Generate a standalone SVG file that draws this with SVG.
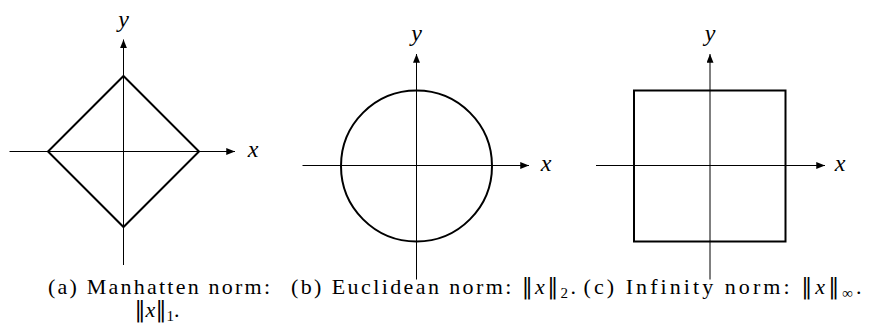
<svg xmlns="http://www.w3.org/2000/svg" width="874" height="334" viewBox="0 0 874 334">
<style>
.axis{stroke:#000;stroke-width:1;fill:none}
.shape{stroke:#000;stroke-width:2;fill:none}
text{fill:#000}
.bar{font-family:'DejaVu Serif','Liberation Serif',serif}
</style>
<defs>
<marker id="arr" viewBox="0 0 10 8" refX="10" refY="4" markerWidth="9" markerHeight="7" markerUnits="userSpaceOnUse" orient="auto">
<path d="M0,0 L10,4 L0,8 z" fill="#000"/>
</marker>
</defs>
<g id="axes">
<line class="axis" x1="9.5" y1="151.5" x2="235" y2="151.5" marker-end="url(#arr)"/>
<line class="axis" x1="123.5" y1="265" x2="123.5" y2="39.5" marker-end="url(#arr)"/>
<line class="axis" x1="302.5" y1="165.5" x2="529" y2="165.5" marker-end="url(#arr)"/>
<line class="axis" x1="416.5" y1="279.5" x2="416.5" y2="54" marker-end="url(#arr)"/>
<line class="axis" x1="596" y1="165.5" x2="825" y2="165.5" marker-end="url(#arr)"/>
<line class="axis" x1="710" y1="279.5" x2="710" y2="54" marker-end="url(#arr)"/>
</g>
<g font-family="Liberation Serif, DejaVu Serif, serif" font-size="22">
<g id="panel-a">
<polygon class="shape" points="123.5,76 199,151.5 123.5,227 48,151.5"/>
<text x="253" y="157" text-anchor="middle" font-style="italic" font-size="24">x</text>
<text x="123.5" y="27" text-anchor="middle" font-style="italic" font-size="24">y</text>
<text x="159" y="294" text-anchor="middle" textLength="222" lengthAdjust="spacing">(a) Manhatten norm:</text>
<text x="157" y="317" text-anchor="middle"><tspan class="bar">‖</tspan><tspan font-style="italic">x</tspan><tspan class="bar">‖</tspan><tspan font-size="15" dy="4">1</tspan><tspan dy="-4">.</tspan></text>
</g>
<g id="panel-b">
<circle class="shape" cx="416.5" cy="166" r="75.5"/>
<text x="546" y="171" text-anchor="middle" font-style="italic" font-size="24">x</text>
<text x="416.5" y="41" text-anchor="middle" font-style="italic" font-size="24">y</text>
<text x="433.5" y="294" text-anchor="middle" textLength="285" lengthAdjust="spacing">(b) Euclidean norm: <tspan class="bar">‖</tspan><tspan font-style="italic">x</tspan><tspan class="bar">‖</tspan><tspan font-size="15" dy="4">2</tspan><tspan dy="-4">.</tspan></text>
</g>
<g id="panel-c">
<rect class="shape" x="634" y="90.5" width="151.5" height="151"/>
<text x="840" y="171" text-anchor="middle" font-style="italic" font-size="24">x</text>
<text x="710" y="41" text-anchor="middle" font-style="italic" font-size="24">y</text>
<text x="722.5" y="294" text-anchor="middle" textLength="278" lengthAdjust="spacing">(c) Infinity norm: <tspan class="bar">‖</tspan><tspan font-style="italic">x</tspan><tspan class="bar">‖</tspan><tspan font-size="15" dy="4">∞</tspan><tspan dy="-4">.</tspan></text>
</g>
</g>
</svg>
